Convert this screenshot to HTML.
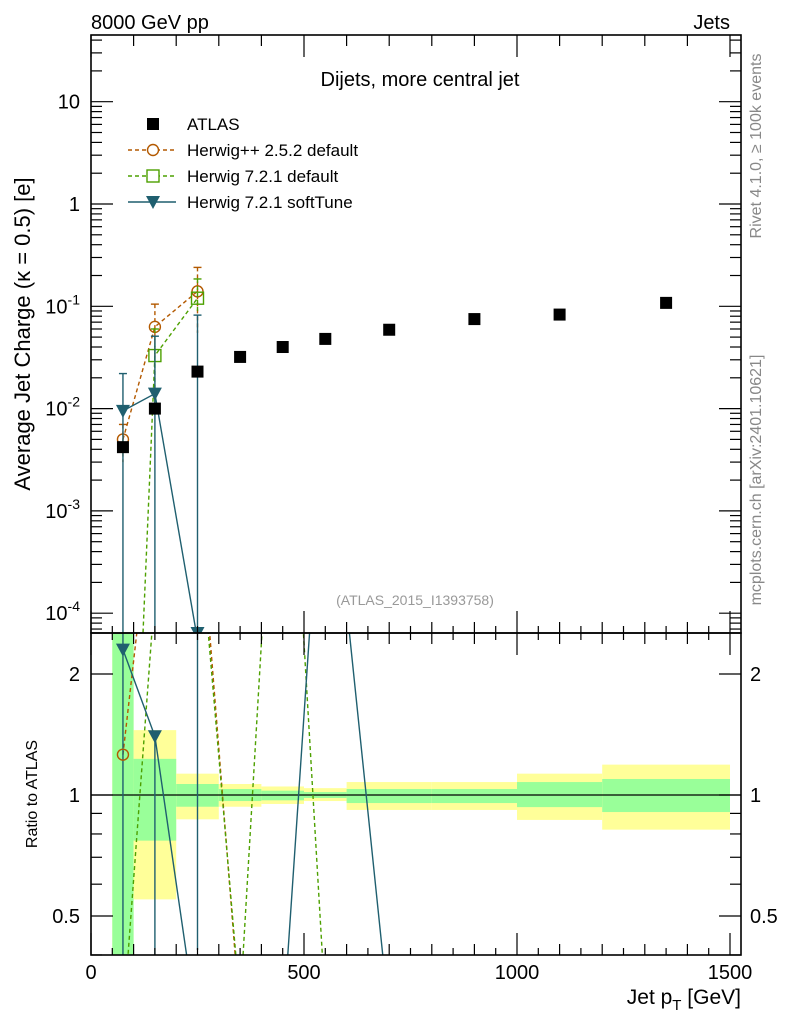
<!DOCTYPE html>
<html><head><meta charset="utf-8">
<style>
html,body{margin:0;padding:0;background:#fff;width:786px;height:1024px;overflow:hidden;position:relative;}
svg{display:block;position:absolute;left:0;top:0;font-family:"Liberation Sans",sans-serif;}
</style></head>
<body>
<svg id="chart" width="786" height="1024" viewBox="0 0 786 1024" xmlns="http://www.w3.org/2000/svg">
<defs>
<clipPath id="clipTop"><rect x="91" y="35" width="650" height="598"/></clipPath>
<clipPath id="clipRat"><rect x="91" y="633" width="650" height="322"/></clipPath>
</defs>
<g id="bands" clip-path="url(#clipRat)"></g>
<g id="ratioLines" clip-path="url(#clipRat)"></g>
<g id="topMarks" clip-path="url(#clipTop)"></g>
<g id="axes"></g>
<text x="91" y="29" font-size="20">8000 GeV pp</text>
<text x="730" y="29" font-size="20" text-anchor="end">Jets</text>
<text x="420" y="86" font-size="20" text-anchor="middle">Dijets, more central jet</text>
<text x="415" y="605" font-size="14" fill="#999" text-anchor="middle">(ATLAS_2015_I1393758)</text>
<text transform="translate(30,334) rotate(-90)" font-size="22" text-anchor="middle">Average Jet Charge (κ = 0.5) [e]</text>
<text transform="translate(37,794) rotate(-90)" font-size="16" text-anchor="middle">Ratio to ATLAS</text>
<text transform="translate(761,146) rotate(-90)" font-size="16" fill="#888" text-anchor="middle">Rivet 4.1.0, ≥ 100k events</text>
<text transform="translate(761,480) rotate(-90)" font-size="16" fill="#888" text-anchor="middle">mcplots.cern.ch [arXiv:2401.10621]</text>
<text x="741" y="1004" font-size="21" text-anchor="end">Jet p<tspan font-size="15" dy="6">T</tspan><tspan dy="-6"> [GeV]</tspan></text>
<g id="legend"></g>
</svg>
<script>
const xCenters=[75,150,250,350,450,550,700,900,1100,1350];
const binEdges=[50,100,200,300,400,500,600,800,1000,1200,1500];
const atlasVals=[0.0042,0.010,0.023,0.032,0.040,0.048,0.059,0.075,0.083,0.108];
const hppVals=[0.005,0.063,0.14];
const hppErrUp=[0.007,0.105,0.24];
const hppErrDn=[0.003,0.03,0.055];
const h721Vals=[1.7e-9,0.033,0.12];
const h721ErrUp=[1e-8,0.06,0.185];
const h721ErrDn=[1e-9,0.01,0.09];
const softVals=[0.0095,0.014,5.5e-5];
const softErrUp=[0.022,0.051,0.082];
const softErrDn=[1e-6,1e-6,1e-6];
const ratioHpp=[1.26,6.3,6.1,0.28,0.2,0.2,0.2,0.2,0.2,0.2];
const ratioH721=[0.27,3.2,5.2,0.3,19,0.3,0.3,0.3,0.3,0.3];
const ratioSoft=[2.3,1.4,0.26,0.26,0.26,9.6,0.28,0.28,0.28,0.28];
const bandStatUp=[100,1.23,1.065,1.035,1.025,1.017,1.035,1.035,1.077,1.096];
const bandStatDn=[0.01,0.77,0.935,0.966,0.97,0.983,0.955,0.955,0.933,0.907];
const bandTotUp=[100,1.45,1.13,1.065,1.05,1.04,1.077,1.077,1.13,1.19];
const bandTotDn=[0.01,0.55,0.87,0.935,0.95,0.966,0.918,0.918,0.867,0.82];
const xTicks=[0,500,1000,1500];
const yTopTicks=[10,1,0.1,0.01,0.001,0.0001];
const yTopLabels=["10","1","10^-1","10^-2","10^-3","10^-4"];
const ratioTicks=[2,1,0.5];

const NS="http://www.w3.org/2000/svg";
const X=v=>91+v*0.426;
const YT=v=>204-102.3*Math.log10(v);
const YR=v=>795-402*Math.log10(v);
const YTc=v=>Math.min(633,YT(v));
function mk(tag,attrs,parent){const e=document.createElementNS(NS,tag);for(const k in attrs)e.setAttribute(k,attrs[k]);parent.appendChild(e);return e;}
const bands=document.getElementById('bands');
const rl=document.getElementById('ratioLines');
const tm=document.getElementById('topMarks');
const ax=document.getElementById('axes');
const lg=document.getElementById('legend');

for(let i=0;i<xCenters.length;i++){
  const x0=X(binEdges[i]),x1=X(binEdges[i+1]);
  let r=mk('rect',{x:x0,y:YR(bandTotUp[i]),width:x1-x0,height:YR(bandTotDn[i])-YR(bandTotUp[i]),fill:'#ffff99'},bands);
  
  
  r=mk('rect',{x:x0,y:YR(bandStatUp[i]),width:x1-x0,height:YR(bandStatDn[i])-YR(bandStatUp[i]),fill:'#99ff99'},bands);
  
  
}
let one=mk('line',{x1:91,x2:741,y1:YR(1),y2:YR(1),stroke:'#000','stroke-width':1.2},rl);



const cols={hpp:'#b35900',h721:'#4da000',soft:'#1f5f6f'};
function poly(vals,fy,col,dash,parent,name){
  const pts=vals.map((v,i)=>X(xCenters[i])+','+fy(v)).join(' ');
  const p=mk('polyline',{points:pts,fill:'none',stroke:col,'stroke-width':1.4},parent);
  if(dash)p.setAttribute('stroke-dasharray','4,3');
  
  
}
poly(ratioHpp,YR,cols.hpp,true,rl,'ratio-herwigpp-line');
poly(ratioH721,YR,cols.h721,true,rl,'ratio-herwig721-line');
poly(ratioSoft,YR,cols.soft,false,rl,'ratio-softtune-line');
[[0,633,955],[1,736,955],[2,633,950]].forEach(a=>{
  const l=mk('line',{x1:X(xCenters[a[0]]),x2:X(xCenters[a[0]]),y1:a[1],y2:a[2],stroke:cols.soft,'stroke-width':1.4},rl);
  
  
});

function circle(cx,cy,col,parent){return mk('circle',{cx:cx,cy:cy,r:5.5,fill:'none',stroke:col,'stroke-width':1.4},parent);}
function square(cx,cy,col,parent){return mk('rect',{x:cx-6,y:cy-6,width:12,height:12,fill:'none',stroke:col,'stroke-width':1.4},parent);}
function tri(cx,cy,col,parent){return mk('polygon',{points:(cx-7)+','+(cy-6)+' '+(cx+7)+','+(cy-6)+' '+cx+','+(cy+7),fill:col},parent);}

let m=circle(X(xCenters[0]),YR(ratioHpp[0]),cols.hpp,rl);


for(let i=0;i<2;i++){
  m=tri(X(xCenters[i]),YR(ratioSoft[i]),cols.soft,rl);
  
  
}

function series(vals,up,dn,col,dash,shape,name){
  for(let i=0;i<vals.length;i++){
    const x=X(xCenters[i]);
    const e=mk('line',{x1:x,x2:x,y1:YT(up[i]),y2:YTc(dn[i]),stroke:col,'stroke-width':1.4},tm);
    if(dash)e.setAttribute('stroke-dasharray','4,3');
    
    
    const c=mk('line',{x1:x-4,x2:x+4,y1:YT(up[i]),y2:YT(up[i]),stroke:col,'stroke-width':1.4},tm);
    
    
  }
  const pts=vals.map((v,i)=>X(xCenters[i])+','+YT(v)).join(' ');
  const p=mk('polyline',{points:pts,fill:'none',stroke:col,'stroke-width':1.4},tm);
  if(dash)p.setAttribute('stroke-dasharray','4,3');
  
  
  for(let i=0;i<vals.length;i++){
    const y=YT(vals[i]);
    if(y>640)continue;
    const mm=shape(X(xCenters[i]),Math.min(y,633),col,tm);
    
    
  }
}
series(hppVals,hppErrUp,hppErrDn,cols.hpp,true,circle,'herwigpp');
series(h721Vals,h721ErrUp,h721ErrDn,cols.h721,true,square,'herwig721');
series(softVals,softErrUp,softErrDn,cols.soft,false,tri,'softtune');
for(let i=0;i<atlasVals.length;i++){
  const r=mk('rect',{x:X(xCenters[i])-6,y:YT(atlasVals[i])-6,width:12,height:12,fill:'#000'},tm);
  
  
}

[[35,633],[633,955]].forEach(f=>{
  const r=mk('rect',{x:91,y:f[0],width:650,height:f[1]-f[0],fill:'none',stroke:'#000','stroke-width':1.6},ax);
  
  
});
function tick(x1,y1,x2,y2){const t=mk('line',{x1:x1,y1:y1,x2:x2,y2:y2,stroke:'#000','stroke-width':1.2},ax);}
for(let v=0;v<=1500;v+=50){
  const x=X(v);
  const L=(v%500===0)?22:(v%100===0?11:7);
  tick(x,955,x,955-L);tick(x,633,x,633-L);tick(x,633,x,633+L);tick(x,35,x,35+(v%500===0?22:(v%100===0?11:0)));
}
xTicks.forEach(v=>{
  const t=mk('text',{x:X(v),y:979,'font-size':20,'text-anchor':'middle'},ax);
  t.textContent=v;
  
  
});
for(let d=-5;d<=1;d++){
  for(let k=1;k<=9;k++){
    const v=k*Math.pow(10,d);const y=YT(v);
    if(y<35||y>633)continue;
    const L=k===1?22:11;
    tick(91,y,91+L,y);tick(741,y,741-L,y);
  }
}
yTopTicks.forEach((v,i)=>{
  const y=YT(v)+7;
  const lab=yTopLabels[i];
  const t=mk('text',{x:80,y:y,'font-size':20,'text-anchor':'end'},ax);
  if(lab.indexOf('^')>0){
    const p=lab.split('^');
    t.textContent=p[0];
    const s=mk('tspan',{dy:-9,'font-size':14},t);s.textContent=p[1];
  } else t.textContent=lab;
  
  
});
[0.4,0.5,0.6,0.7,0.8,0.9,1,2].forEach(v=>{
  const y=YR(v);const L=(v===1||v===2||v===0.5)?22:11;
  tick(91,y,91+L,y);tick(741,y,741-L,y);
});
ratioTicks.forEach(v=>{
  const t=mk('text',{x:80,y:YR(v)+7,'font-size':20,'text-anchor':'end'},ax);
  t.textContent=v;
  
  
  const t2=mk('text',{x:750,y:YR(v)+7,'font-size':20},ax);
  t2.textContent=v;
  
  
});

const legItems=[['ATLAS','atlas'],['Herwig++ 2.5.2 default','hpp'],['Herwig 7.2.1 default','h721'],['Herwig 7.2.1 softTune','soft']];
legItems.forEach((it,i)=>{
  const y=124+i*26;
  const g=mk('g',{},lg);
  
  
  if(it[1]==='atlas'){mk('rect',{x:147,y:y-6,width:12,height:12,fill:'#000'},g);}
  else{
    const l=mk('line',{x1:128,x2:176,y1:y,y2:y,stroke:cols[it[1]],'stroke-width':1.4},g);
    if(it[1]!=='soft')l.setAttribute('stroke-dasharray','4,3');
    if(it[1]==='hpp'){mk('circle',{cx:153,cy:y,r:5.5,fill:'#fff',stroke:cols.hpp,'stroke-width':1.4},g);}
    if(it[1]==='h721'){mk('rect',{x:147,y:y-6,width:12,height:12,fill:'#fff',stroke:cols.h721,'stroke-width':1.4},g);}
    if(it[1]==='soft'){tri(153,y,cols.soft,g);}
  }
  const t=mk('text',{x:187,y:y+6,'font-size':17},g);
  t.textContent=it[0];
});
</script>
</body></html>
